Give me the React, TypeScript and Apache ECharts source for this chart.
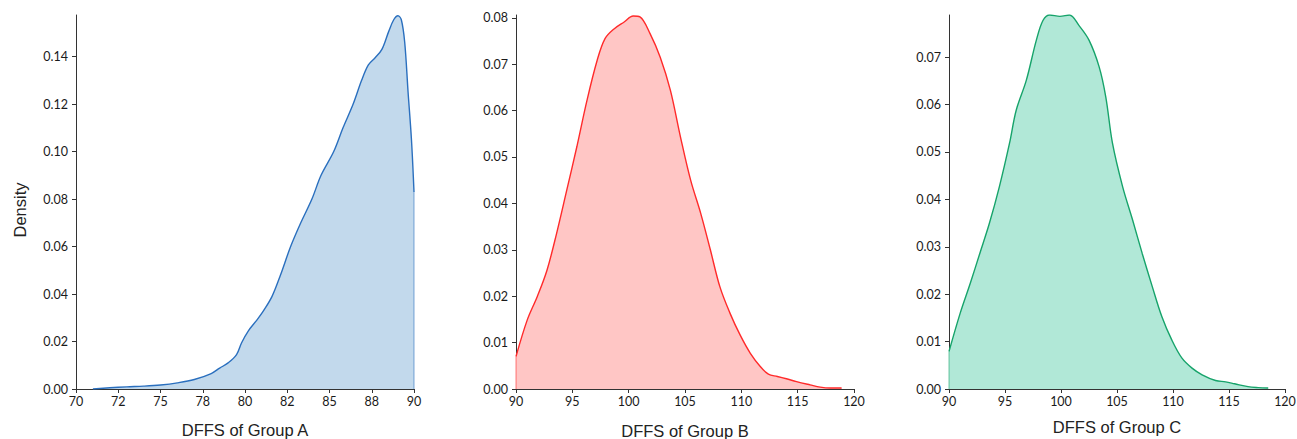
import React, { useEffect, useRef } from "react";
import * as echarts from "echarts";

const groupA: number[][] = [
  [71, 0], [72, 0.0005], [73, 0.0009], [74, 0.0012], [75, 0.0017], [76, 0.0026], [77, 0.004],
  [78, 0.0065], [78.5, 0.0088], [79, 0.011], [79.5, 0.0145], [79.8, 0.0195], [80.2, 0.0245],
  [80.7, 0.029], [81.1, 0.033], [81.6, 0.039], [82.1, 0.048], [82.7, 0.06], [83.3, 0.07],
  [83.96, 0.08], [84.5, 0.09], [85.25, 0.1], [85.8, 0.11], [86.4, 0.12], [86.9, 0.13],
  [87.3, 0.1365], [87.7, 0.1395], [88.1, 0.143], [88.5, 0.1505], [88.8, 0.1555], [89.05, 0.1572],
  [89.25, 0.1555], [89.45, 0.146], [89.65, 0.125], [89.85, 0.105], [90, 0.083],
];
const groupB: number[][] = [
  [90, 0.007], [91, 0.0149], [91.9, 0.02], [92.75, 0.0256], [93.6, 0.0335], [94.5, 0.0428],
  [95.4, 0.0522], [96.3, 0.0622], [97.2, 0.0708], [97.9, 0.0755], [98.7, 0.0776], [99.6, 0.0791],
  [100.4, 0.0804], [101.0, 0.0802], [101.9, 0.0766], [102.8, 0.0715], [103.7, 0.0644],
  [104.6, 0.0543], [105.5, 0.045], [106.4, 0.0378], [107.25, 0.03], [108.1, 0.022], [109, 0.0163],
  [109.9, 0.0116], [110.8, 0.0077], [111.7, 0.0048], [112.4, 0.0032], [113.2, 0.0027],
  [114, 0.0022], [114.9, 0.0016], [116.1, 0.0009], [117, 0.0004], [117.9, 0.0002], [118.9, 0.0002],
];
const groupC: number[][] = [
  [90, 0.0079], [91, 0.016], [91.9, 0.0223], [92.75, 0.0286], [93.6, 0.0349], [94.5, 0.0427],
  [95.4, 0.0518], [96, 0.0588], [96.9, 0.0651], [97.8, 0.0736], [98.4, 0.0778], [99, 0.0789],
  [99.9, 0.0786], [100.75, 0.0789], [101.6, 0.0767], [102.5, 0.0736], [103.4, 0.068],
  [104, 0.0616], [104.6, 0.0518], [105.5, 0.0427], [106.4, 0.0356], [107.25, 0.0286],
  [108.15, 0.0216], [109, 0.0153], [109.9, 0.0103], [110.8, 0.0065], [111.7, 0.0044],
  [112.6, 0.003], [113.8, 0.0018], [114.7, 0.0015], [115.5, 0.0011], [116.7, 0.0005],
  [117.6, 0.0003], [118.5, 0.0002],
];

const xTicksA = [70, 72.5, 75, 77.5, 80, 82.5, 85, 87.5, 90];
const xLabelsA = ["70", "72", "75", "78", "80", "82", "85", "88", "90"];
const xTicksBC = [90, 95, 100, 105, 110, 115, 120];
const xLabelsBC = ["90", "95", "100", "105", "110", "115", "120"];
const yTicksA = [0, 0.02, 0.04, 0.06, 0.08, 0.1, 0.12, 0.14];
const yLabelsA = ["0.00", "0.02", "0.04", "0.06", "0.08", "0.10", "0.12", "0.14"];
const yTicksB = [0, 0.01, 0.02, 0.03, 0.04, 0.05, 0.06, 0.07, 0.08];
const yLabelsB = ["0.00", "0.01", "0.02", "0.03", "0.04", "0.05", "0.06", "0.07", "0.08"];
const yTicksC = [0, 0.01, 0.02, 0.03, 0.04, 0.05, 0.06, 0.07];
const yLabelsC = ["0.00", "0.01", "0.02", "0.03", "0.04", "0.05", "0.06", "0.07"];

const titles = ["DFFS of Group A", "DFFS of Group B", "DFFS of Group C"];
const lineColors = ["#2a6fbe", "#ff2a2a", "#16a36a"];
const fillColors = ["#c2d9ec", "#ffc6c5", "#b1e8d7"];

const tickFont = "Lato, 'Open Sans', sans-serif";
const titleFont = "'Liberation Sans', Arial, sans-serif";

function xAxis(i: number, min: number, max: number, ticks: number[], labels: string[], gap: number) {
  return {
    type: "value", gridIndex: i, min, max,
    name: titles[i], nameLocation: "middle", nameGap: gap,
    nameTextStyle: { fontFamily: titleFont, fontSize: 16.5, color: "#222" },
    axisLine: { show: true, lineStyle: { color: "#333", width: 1 } },
    axisTick: { show: true, length: 4, lineStyle: { color: "#333" }, customValues: ticks },
    axisLabel: {
      customValues: ticks, margin: 6, color: "#1a1a1a", fontFamily: tickFont, fontSize: 12.5,
      formatter: (v: number) => labels[ticks.findIndex((t) => Math.abs(t - v) < 1e-9)] ?? "",
    },
    splitLine: { show: false },
  };
}
function yAxis(i: number, max: number, ticks: number[], labels: string[]) {
  return {
    type: "value", gridIndex: i, min: 0, max,
    axisLine: { show: true, lineStyle: { color: "#333", width: 1 } },
    axisTick: { show: true, length: 4, lineStyle: { color: "#333" }, customValues: ticks },
    axisLabel: {
      customValues: ticks, margin: 8, color: "#1a1a1a", fontFamily: tickFont, fontSize: 12.5,
      formatter: (v: number) => labels[ticks.findIndex((t) => Math.abs(t - v) < 1e-9)] ?? "",
    },
    splitLine: { show: false },
  };
}
function area(i: number, data: number[][]) {
  return {
    type: "line", xAxisIndex: i, yAxisIndex: i, data, smooth: 0.35, symbol: "none",
    lineStyle: { color: lineColors[i], width: 1.4 },
    areaStyle: { color: fillColors[i], opacity: 1 },
    z: 2,
  };
}
function edge(i: number, data: number[][]) {
  const last = data[data.length - 1];
  const first = data[0];
  const pt = i === 0 ? last : first;
  return {
    type: "line", xAxisIndex: i, yAxisIndex: i, data: [[pt[0], pt[1]], [pt[0], 0]],
    symbol: "none", lineStyle: { color: lineColors[i], width: 1, opacity: 0.6 }, z: 3,
  };
}

export default function App() {
  const ref = useRef<HTMLDivElement>(null);
  useEffect(() => {
    if (!ref.current) return;
    const chart = echarts.init(ref.current, null, { renderer: "svg" });
    const g = { top: 15, height: 374, outerBoundsMode: "none", containLabel: false };
    chart.setOption({
      animation: false,
      backgroundColor: "#ffffff",
      grid: [
        { ...g, left: 76, width: 338 },
        { ...g, left: 516, width: 338 },
        { ...g, left: 949, width: 336 },
      ],
      xAxis: [
        xAxis(0, 70, 90, xTicksA, xLabelsA, 32),
        xAxis(1, 90, 120, xTicksBC, xLabelsBC, 33),
        xAxis(2, 90, 120, xTicksBC, xLabelsBC, 29),
      ],
      yAxis: [
        yAxis(0, 0.1575, yTicksA, yLabelsA),
        yAxis(1, 0.0806, yTicksB, yLabelsB),
        yAxis(2, 0.0789, yTicksC, yLabelsC),
      ],
      graphic: [
        {
          type: "text", x: 20, y: 210, rotation: Math.PI / 2,
          style: {
            text: "Density", fontFamily: titleFont, fontSize: 16.5, fill: "#222",
            align: "center", verticalAlign: "middle",
          },
        },
      ],
      series: [
        area(0, groupA), area(1, groupB), area(2, groupC),
        edge(0, groupA), edge(1, groupB), edge(2, groupC),
      ],
    });
    return () => chart.dispose();
  }, []);
  return (
    <div
      ref={ref}
      style={{ position: "fixed", left: 0, top: 0, width: 1297, height: 439, background: "#fff" }}
    />
  );
}
